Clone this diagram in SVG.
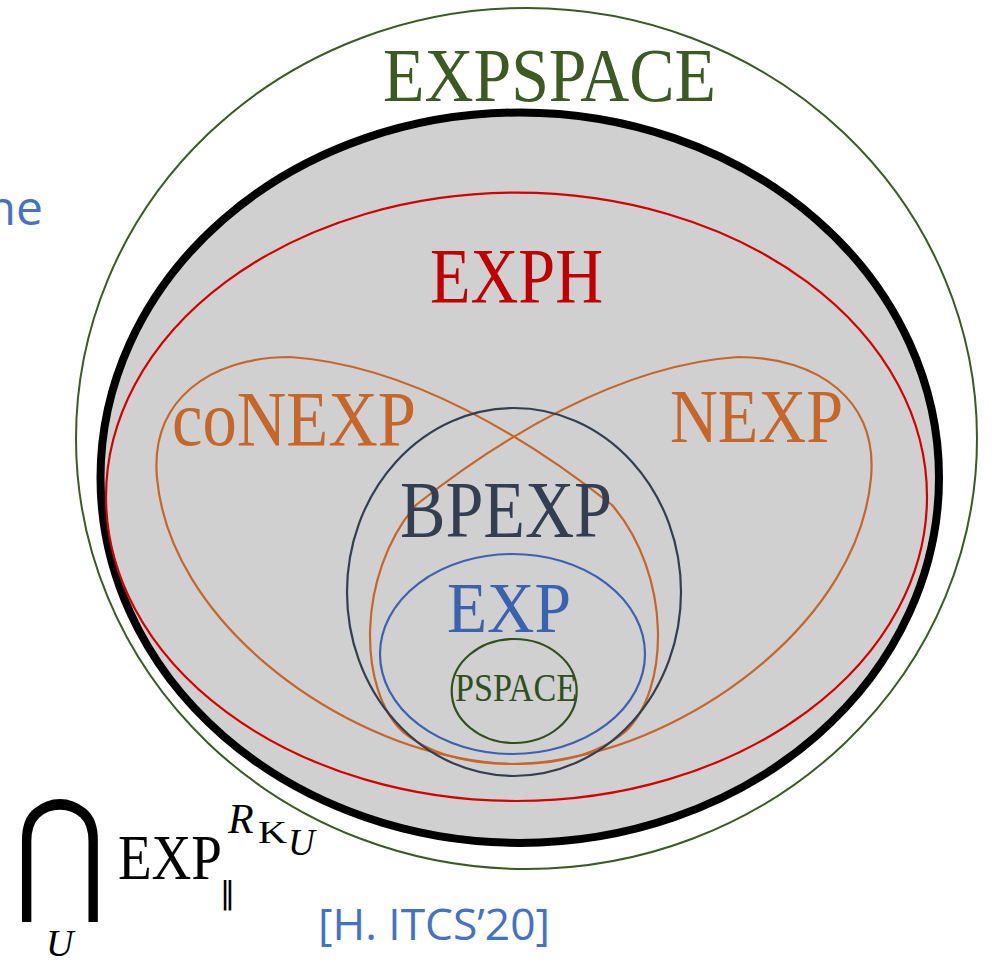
<svg xmlns="http://www.w3.org/2000/svg" width="992" height="962" viewBox="0 0 992 962">
<style>
.lbl{font-family:"Liberation Serif","DejaVu Serif",serif;}
.sans{font-family:"Open Sans","Noto Sans","DejaVu Sans",sans-serif;fill:#4472c4;}
.set{fill:none;}
</style>
<rect width="992" height="962" fill="#ffffff"/>
<g id="expspace">
<ellipse cx="526.5" cy="438.5" rx="450.5" ry="430.5" class="set" stroke="#3b5a24" stroke-width="2"/>
<text class="lbl" x="383" y="101" font-size="76" fill="#3b5a24" textLength="333" lengthAdjust="spacingAndGlyphs">EXPSPACE</text>
</g>
<g id="advice-class">
<ellipse cx="519.75" cy="477.7" rx="419.25" ry="365.2" fill="#d0d0d0" stroke="#000000" stroke-width="8"/>
</g>
<g id="exph">
<ellipse cx="516.5" cy="496.8" rx="410.5" ry="304.2" class="set" stroke="#d40000" stroke-width="2.2"/>
<text class="lbl" x="430" y="302" font-size="78" fill="#c00000" textLength="173" lengthAdjust="spacingAndGlyphs">EXPH</text>
</g>
<g id="conexp">
<path class="set" stroke="#c5662b" stroke-width="2.2" d="M 290,357 C 410,365 530,440 612,505 C 672,575 670,690 625,732 C 585,765 520,770 460,758 C 330,735 170,620 157,478 C 150,400 210,357 290,357 Z"/>
<text class="lbl" x="172" y="445" font-size="78" fill="#c5662b" textLength="244" lengthAdjust="spacingAndGlyphs">coNEXP</text>
</g>
<g id="nexp">
<path class="set" stroke="#c5662b" stroke-width="2.2" d="M 738,357 C 618,365 498,440 416,505 C 356,575 358,690 403,732 C 443,765 508,770 568,758 C 698,735 858,620 871,478 C 878,400 818,357 738,357 Z"/>
<text class="lbl" x="670" y="442" font-size="76" fill="#c5662b" textLength="173" lengthAdjust="spacingAndGlyphs">NEXP</text>
</g>
<g id="bpexp">
<ellipse cx="514" cy="592" rx="167" ry="184" class="set" stroke="#333f50" stroke-width="2.2"/>
<text class="lbl" x="400" y="537" font-size="80" fill="#333f50" textLength="212" lengthAdjust="spacingAndGlyphs">BPEXP</text>
</g>
<g id="exp">
<ellipse cx="512.5" cy="654" rx="132.5" ry="100" class="set" stroke="#3b62ae" stroke-width="2.2"/>
<text class="lbl" x="447" y="632" font-size="71" fill="#3b62ae" textLength="124" lengthAdjust="spacingAndGlyphs">EXP</text>
</g>
<g id="pspace">
<ellipse cx="514.2" cy="691" rx="62.5" ry="52" class="set" stroke="#2f4f1d" stroke-width="2.2"/>
<text class="lbl" x="455" y="701" font-size="39" fill="#2f4f1d" textLength="122" lengthAdjust="spacingAndGlyphs">PSPACE</text>
</g>
<g id="side-text">
<text class="sans" x="43" y="225" font-size="48" text-anchor="end">ne</text>
<text class="sans" x="318" y="940" font-size="44" textLength="232" lengthAdjust="spacingAndGlyphs">[H. ITCS’20]</text>
</g>
<g id="formula" fill="#000000">
<text transform="translate(14.6,896) scale(0.74,0.9)" x="0" y="0" font-family="DejaVu Sans,sans-serif" font-size="150">⋂</text>
<text class="lbl" x="46" y="956" font-size="38" font-style="italic">U</text>
<text class="lbl" x="118" y="879" font-size="63" textLength="104" lengthAdjust="spacingAndGlyphs">EXP</text>
<text x="220" y="903" font-family="DejaVu Sans,sans-serif" font-size="30">‖</text>
<text class="lbl" x="228" y="833" font-size="42" font-style="italic">R</text>
<text class="lbl" x="258" y="843" font-size="32" textLength="29" lengthAdjust="spacingAndGlyphs">K</text>
<text class="lbl" x="288" y="855" font-size="37" font-style="italic">U</text>
</g>
</svg>
